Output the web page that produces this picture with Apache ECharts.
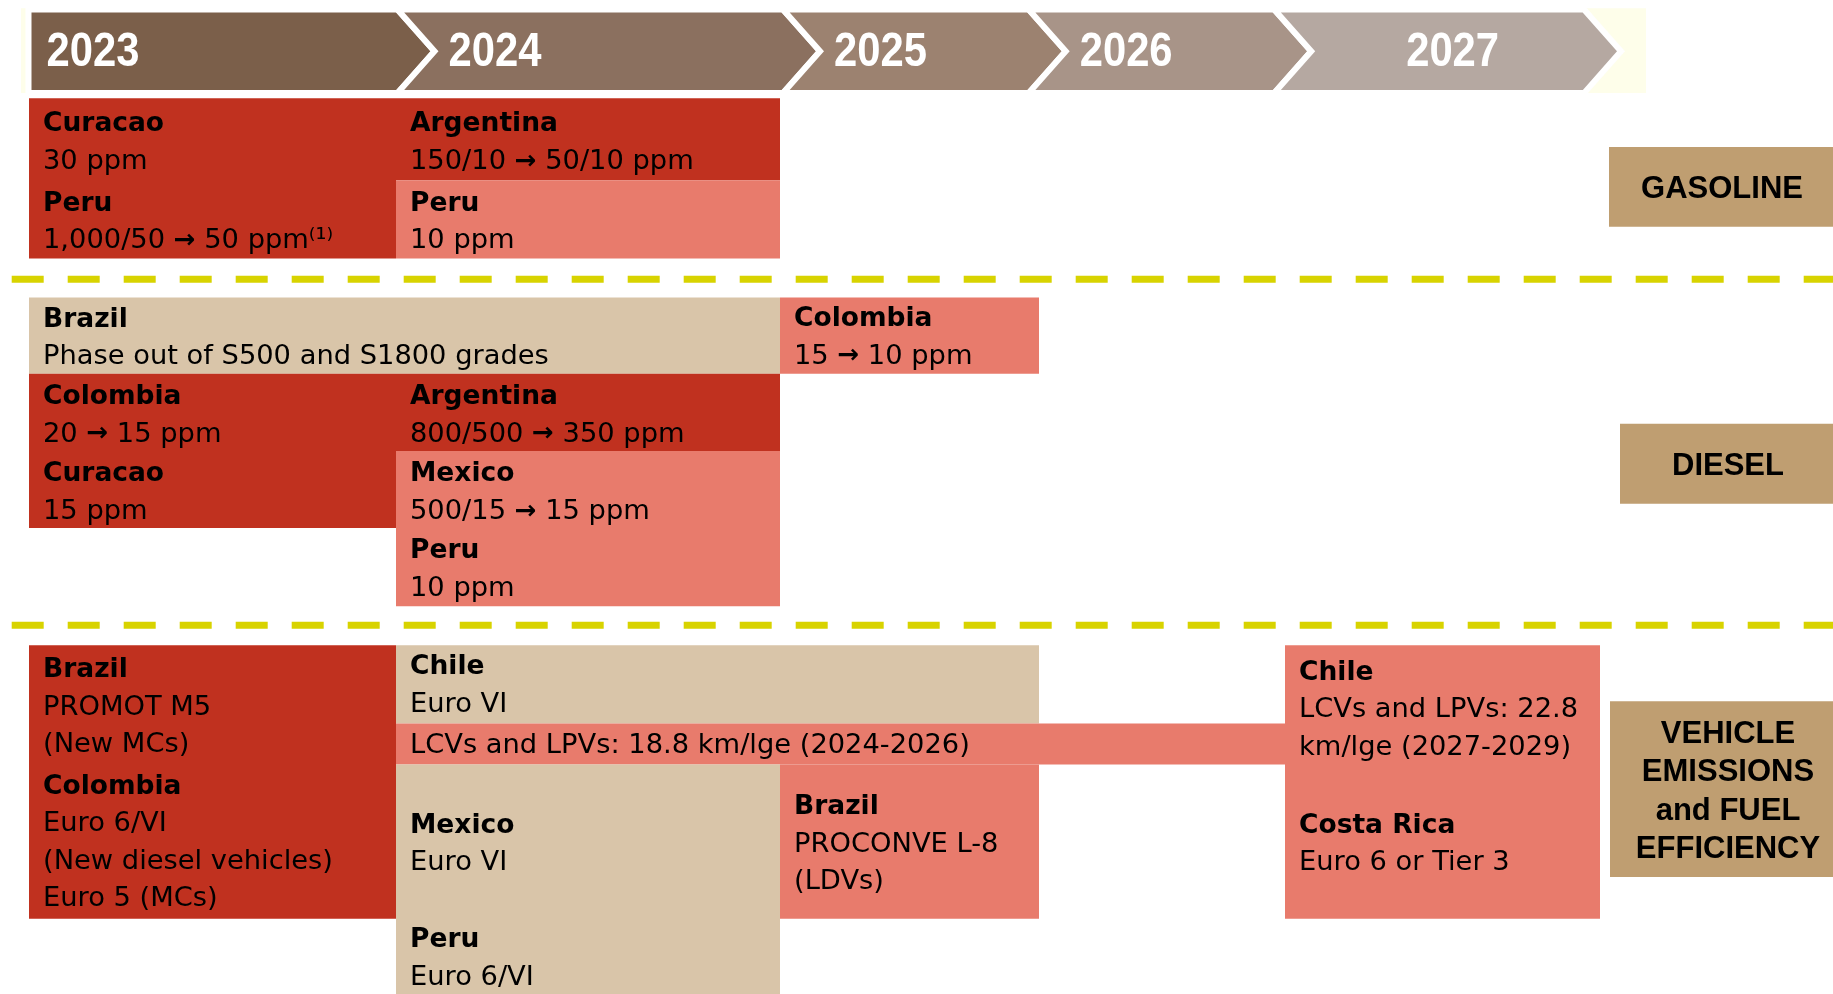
<!DOCTYPE html>
<html>
<head>
<meta charset="utf-8">
<title>Fuel quality and vehicle standards timeline</title>
<script src="https://cdn.jsdelivr.net/npm/echarts@6.0.0/dist/echarts.min.js"></script>
<style>
html, body { margin: 0; padding: 0; background: #fff; }
#timeline { width: 1833px; height: 994px; }
</style>
</head>
<body>
<div id="timeline"></div>
<script>
// ---- data ----
var years = ['2023', '2024', '2025', '2026', '2027'];

// blocks: [fromYear, toYear, topRow, bottomRow, tone]
// tone: 'now' = dark red, 'soon' = salmon, 'other' = tan
var gasolineBlocks = [
    [2023, 2024, 0, 4.1, 'now'],
    [2024, 2025, 0, 2.1, 'now'],
    [2024, 2025, 2.1, 4.1, 'soon']
];
var dieselBlocks = [
    [2023, 2025, 5.1, 7.05, 'other'],
    [2025, 2026, 5.1, 7.05, 'soon'],
    [2023, 2025, 7.05, 9.03, 'now'],
    [2023, 2024, 9.03, 11, 'now'],
    [2024, 2025, 9.03, 13, 'soon']
];
var vehicleBlocks = [
    [2023, 2024, 14, 21, 'now'],
    [2024, 2026, 14, 16, 'other'],
    [2024, 2027, 16, 17.05, 'soon'],
    [2024, 2025, 17.05, 23.5, 'other'],
    [2025, 2026, 17.05, 21, 'soon'],
    [2027, 2028, 14, 21, 'soon']
];

// entries: [year, startRow, country, detail lines...]
var gasolineEntries = [
    [2023, 0, 'Curacao', '30 ppm'],
    [2023, 2.03, 'Peru', '1,000/50 → 50 ppm⁽¹⁾'],
    [2024, 0, 'Argentina', '150/10 → 50/10 ppm'],
    [2024, 2.03, 'Peru', '10 ppm']
];
var dieselEntries = [
    [2023, 5.0, 'Brazil', 'Phase out of S500 and S1800 grades'],
    [2025, 4.98, 'Colombia', '15 → 10 ppm'],
    [2023, 6.98, 'Colombia', '20 → 15 ppm'],
    [2024, 6.98, 'Argentina', '800/500 → 350 ppm'],
    [2023, 8.96, 'Curacao', '15 ppm'],
    [2024, 8.96, 'Mexico', '500/15 → 15 ppm'],
    [2024, 10.93, 'Peru', '10 ppm']
];
var vehicleEntries = [
    [2023, 13.97, 'Brazil', 'PROMOT M5', '(New MCs)'],
    [2023, 16.95, 'Colombia', 'Euro 6/VI', '(New diesel vehicles)', 'Euro 5 (MCs)'],
    [2024, 13.9, 'Chile', 'Euro VI'],
    [2024, 15.9, '', 'LCVs and LPVs: 18.8 km/lge (2024-2026)'],
    [2024, 17.95, 'Mexico', 'Euro VI'],
    [2024, 20.88, 'Peru', 'Euro 6/VI'],
    [2025, 17.47, 'Brazil', 'PROCONVE L-8', '(LDVs)'],
    [2027, 14.03, 'Chile', 'LCVs and LPVs: 22.8', 'km/lge (2027-2029)'],
    [2027, 17.95, 'Costa Rica', 'Euro 6 or Tier 3']
];

var sectionNames = [['GASOLINE'], ['DIESEL'], ['VEHICLE', 'EMISSIONS', 'and FUEL', 'EFFICIENCY']];
var dividerRows = [4.63, 13.49];

// ---- layout ----
var colEdges = [29, 396, 780, 1039, 1285, 1600];      // x where each year column starts
var headEdges = [28.5, 397.5, 783, 1028.7, 1274.2, 1584];
var headTop = -2.27, headBottom = -0.13, arrowDepth = 37;
var labelBoxes = [
    { left: 1609, top: 1.25, bottom: 3.29, cx: 1722 },
    { left: 1620, top: 8.33, bottom: 10.38, cx: 1728 },
    { left: 1610, top: 15.43, bottom: 19.93, cx: 1728 }
];
var toneColor = { now: '#C0311F', soon: '#E87B6C', other: '#D9C5A9' };
var headColor = ['#7B5F4A', '#8B705F', '#9C8270', '#A89488', '#B5A8A1'];
var bodyFont = 'DejaVu Sans';
var headFont = 'Liberation Sans';

function yearX(y) { return colEdges[y - 2023]; }

var allBlocks = gasolineBlocks.concat(dieselBlocks, vehicleBlocks);
var allEntries = gasolineEntries.concat(dieselEntries, vehicleEntries);

var chart = echarts.init(document.getElementById('timeline'));

function blockItem(params, api) {
    var b = allBlocks[api.value(4)];
    var p0 = api.coord([api.value(0), api.value(2)]);
    var p1 = api.coord([api.value(1), api.value(3)]);
    return {
        type: 'rect',
        shape: { x: p0[0], y: p0[1], width: p1[0] - p0[0], height: p1[1] - p0[1] },
        style: { fill: toneColor[b[4]] }
    };
}

function entryItem(params, api) {
    var e = allEntries[api.value(2)];
    var p = api.coord([api.value(0), api.value(1)]);
    var unit = api.size([0, 1])[1];
    var lines = e[2] ? e.slice(2) : e.slice(3);
    var kids = lines.map(function (t, k) {
        var bold = k === 0 && !!e[2];
        return {
            type: 'text',
            x: p[0] + 14,
            y: p[1] + (0.67 + k * 0.96) * unit,
            style: {
                text: t.split('→').join('{arr|→}'),
                fontFamily: bodyFont,
                fontSize: bold ? 26.5 : 27.3,
                fontWeight: bold ? 'bold' : 'normal',
                fill: '#000',
                align: 'left',
                verticalAlign: 'middle',
                rich: {
                    arr: { fontFamily: bodyFont, fontSize: 26, fontWeight: 'bold', fill: '#000' }
                }
            }
        };
    });
    return { type: 'group', children: kids };
}

function headItem(params, api) {
    var i = api.value(0);
    var top = api.coord([0, headTop])[1];
    var bot = api.coord([0, headBottom])[1];
    var mid = (top + bot) / 2;
    var L = headEdges[i], R = headEdges[i + 1], d = arrowDepth;
    var pts = [[L, top], [R, top], [R + d, mid], [R, bot], [L, bot]];
    if (i > 0) pts.push([L + d, mid]);
    var last = i === years.length - 1;
    return {
        type: 'group',
        children: [{
            type: 'polygon',
            shape: { points: pts },
            style: { fill: headColor[i], stroke: '#fff', lineWidth: 6, lineJoin: 'miter' }
        }, {
            type: 'text',
            x: last ? (L + d + R) / 2 + 5 : (i === 0 ? L + 18 : L + d + 14),
            y: mid + 1,
            scaleX: 0.87,
            style: {
                text: years[i],
                fontFamily: headFont,
                fontWeight: 'bold',
                fontSize: 48,
                fill: '#fff',
                align: last ? 'center' : 'left',
                verticalAlign: 'middle'
            }
        }]
    };
}

function labelItem(params, api) {
    var i = api.value(0);
    var box = labelBoxes[i];
    var p0 = api.coord([box.left, box.top]);
    var p1 = api.coord([1850, box.bottom]);
    var names = sectionNames[i];
    var cy = (p0[1] + p1[1]) / 2 + 3;
    var kids = [{
        type: 'rect',
        shape: { x: p0[0], y: p0[1], width: p1[0] - p0[0], height: p1[1] - p0[1] },
        style: { fill: '#BF9E71' }
    }];
    names.forEach(function (t, k) {
        kids.push({
            type: 'text',
            x: box.cx,
            y: cy + (k - (names.length - 1) / 2) * 38.5,
            style: {
                text: t, fontFamily: headFont, fontWeight: 'bold', fontSize: 31,
                fill: '#000', align: 'center', verticalAlign: 'middle'
            }
        });
    });
    return { type: 'group', children: kids };
}

function dividerItem(params, api) {
    var p0 = api.coord([11.7, api.value(0)]);
    var p1 = api.coord([1833, api.value(0)]);
    return {
        type: 'line',
        shape: { x1: p0[0], y1: p0[1], x2: p1[0], y2: p1[1] },
        style: { stroke: '#D8D300', lineWidth: 7, lineDash: [32, 24] }
    };
}

function backdropItem(params, api) {
    var p0 = api.coord([21, -2.3]);
    var p1 = api.coord([1646, -0.13]);
    return {
        type: 'rect',
        shape: { x: p0[0], y: p0[1], width: p1[0] - p0[0], height: p1[1] - p0[1] },
        style: { fill: '#FEFEEA' }
    };
}

chart.setOption({
    animation: false,
    backgroundColor: '#fff',
    grid: { left: 0, right: 0, top: 0, bottom: 0 },
    xAxis: { type: 'value', min: 0, max: 1833, show: false },
    yAxis: { type: 'value', min: -2.513, max: 22.923, inverse: true, show: false },
    series: [{
        type: 'custom', z: 1, renderItem: backdropItem, data: [[0]]
    }, {
        type: 'custom', z: 2, renderItem: headItem,
        data: years.map(function (y, i) { return [i]; })
    }, {
        type: 'custom', z: 2, renderItem: blockItem,
        encode: { x: [0, 1], y: [2, 3] },
        data: allBlocks.map(function (b, i) { return [yearX(b[0]), yearX(b[1]), b[2], b[3], i]; })
    }, {
        type: 'custom', z: 3, renderItem: entryItem,
        data: allEntries.map(function (e, i) { return [yearX(e[0]), e[1], i]; })
    }, {
        type: 'custom', z: 2, renderItem: dividerItem,
        data: dividerRows.map(function (r) { return [r]; })
    }, {
        type: 'custom', z: 2, renderItem: labelItem,
        data: sectionNames.map(function (n, i) { return [i]; })
    }]
});
</script>
</body>
</html>
